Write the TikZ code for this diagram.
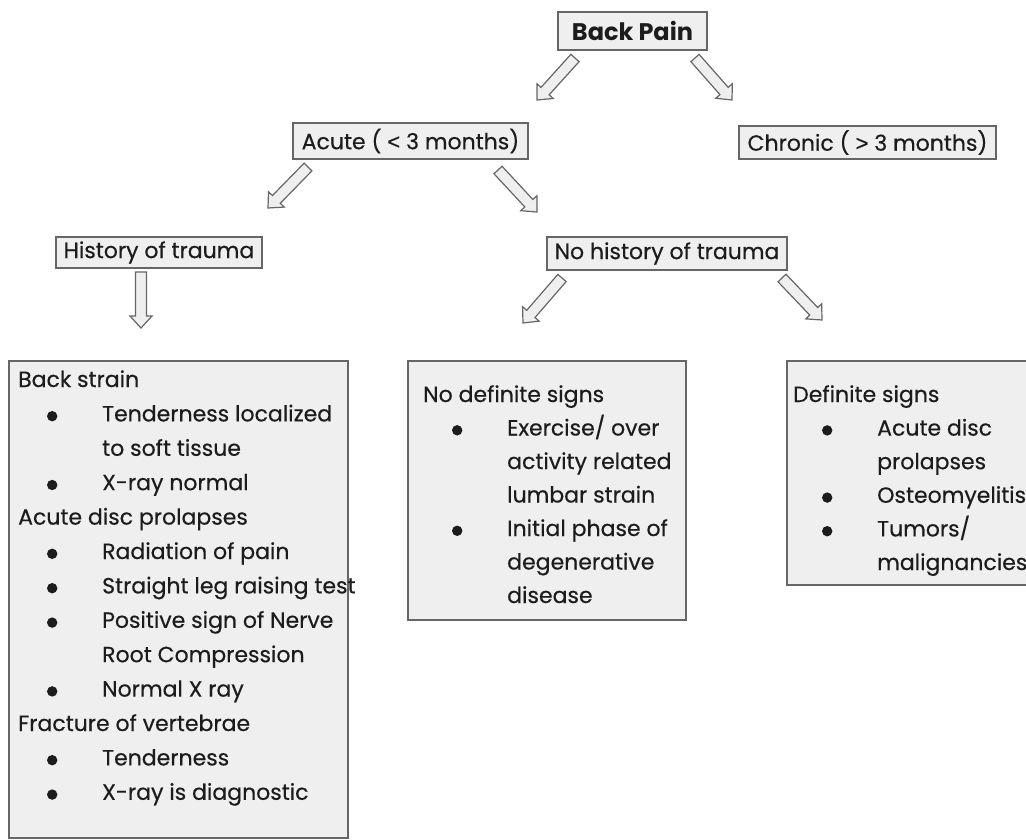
\documentclass[tikz,border=0pt]{standalone}
\usepackage{fontspec}
\setmainfont{Poppins}[UprightFeatures={FakeBold=0.4}]
\newfontfamily\symfont{Liberation Sans}[FakeBold=0.4]
\usetikzlibrary{calc}
\definecolor{boxfill}{HTML}{EFEFEF}
\definecolor{boxline}{HTML}{666666}
\definecolor{textc}{HTML}{1C1C1C}
\newcommand\bul{\tikz[baseline=-5.2pt]\fill[textc] (0pt,0pt) circle[radius=5.2pt];}
\newcommand\hd[1]{\hbox{#1}}
\newcommand\bi[1]{\hbox{\hspace*{34pt}\makebox[0pt]{\bul}\hspace*{50pt}#1}}
\newcommand\ct[1]{\hbox{\hspace*{84pt}#1}}
\newcommand\blockarrow[2]{%
  \coordinate (ba) at ($(#2)!12pt!(#1)$);
  \draw[barrow] ($(#1)!5.5pt!90:(#2)$) -- ($(ba)!5.5pt!90:(#2)$) -- ($(ba)!11pt!90:(#2)$)
    -- (#2) -- ($(ba)!11pt!-90:(#2)$) -- ($(ba)!5.5pt!-90:(#2)$) -- ($(#1)!5.5pt!-90:(#2)$) -- cycle;}
\begin{document}
\begin{tikzpicture}[x=1pt,y=-1pt,
  box/.style={draw=boxline, fill=boxfill, line width=1.3pt, inner sep=0pt, text=textc,
    font=\fontsize{22}{26}\selectfont},
  barrow/.style={draw=boxline, fill=boxfill, line width=1.2pt, line join=miter},
  txt/.style={inner sep=0pt, anchor=base west, text=textc, font=\fontsize{22}{26}\selectfont}]
\useasboundingbox (0,0) rectangle (1026,840);
\clip (0,0) rectangle (1026,840);

% top boxes
\node[box, minimum width=149pt, minimum height=38pt, font=\bfseries\fontsize{24}{26}\selectfont] (back) at (632.5,31) {Back Pain};
\node[box, minimum width=235pt, minimum height=36pt] (acute) at (410.5,141) {Acute ( {\symfont<} 3 months)};
\node[box, minimum width=257pt, minimum height=33pt] (chronic) at (867.5,142.5) {Chronic ( {\symfont>} 3 months)};
\node[box, minimum width=206pt, minimum height=31pt] (hist) at (159,252.5) {History of trauma};
\node[box, minimum width=240pt, minimum height=33pt] (nohist) at (667,253.5) {No history of trauma};

% big boxes
\node[box, minimum width=339pt, minimum height=477pt] (leftbox) at (178.5,599.5) {};
\node[box, minimum width=278pt, minimum height=259pt] (midbox) at (547,490.5) {};
\node[box, minimum width=253pt, minimum height=224pt] (rightbox) at (913.5,473) {};

\node[txt] (lefttext) at (18,387) {\baselineskip=34.4pt\relax\vtop{%
  \hd{Back strain}
  \bi{Tenderness localized}
  \ct{to soft tissue}
  \bi{X-ray normal}
  \hd{Acute disc prolapses}
  \bi{Radiation of pain}
  \bi{Straight leg raising test}
  \bi{Positive sign of Nerve}
  \ct{Root Compression}
  \bi{Normal X ray}
  \hd{Fracture of vertebrae}
  \bi{Tenderness}
  \bi{X-ray is diagnostic}}};

\node[txt] (midtext) at (423,402) {\baselineskip=33.5pt\relax\vtop{%
  \hd{No definite signs}
  \bi{Exercise/ over}
  \ct{activity related}
  \ct{lumbar strain}
  \bi{Initial phase of}
  \ct{degenerative}
  \ct{disease}}};

\node[txt] (righttext) at (793,402) {\baselineskip=33.6pt\relax\vtop{%
  \hd{Definite signs}
  \bi{Acute disc}
  \ct{prolapses}
  \bi{Osteomyelitis}
  \bi{Tumors/}
  \ct{malignancies}}};

% arrow end points
\coordinate (backL) at (575,58);   \coordinate (acuteIn) at (537,100);
\coordinate (backR) at (695,58);   \coordinate (chronIn) at (732,100);
\coordinate (acuteL) at (308,167); \coordinate (histIn) at (268,208);
\coordinate (acuteR) at (498,170); \coordinate (nohistIn) at (537,212);
\coordinate (histD) at (141,272);  \coordinate (leftIn) at (141,328);
\coordinate (nohistL) at (562,278);\coordinate (midIn) at (523,323);
\coordinate (nohistR) at (782,278);\coordinate (rightIn) at (822,320);

\blockarrow{backL}{acuteIn}
\blockarrow{backR}{chronIn}
\blockarrow{acuteL}{histIn}
\blockarrow{acuteR}{nohistIn}
\blockarrow{histD}{leftIn}
\blockarrow{nohistL}{midIn}
\blockarrow{nohistR}{rightIn}
\end{tikzpicture}
\end{document}
